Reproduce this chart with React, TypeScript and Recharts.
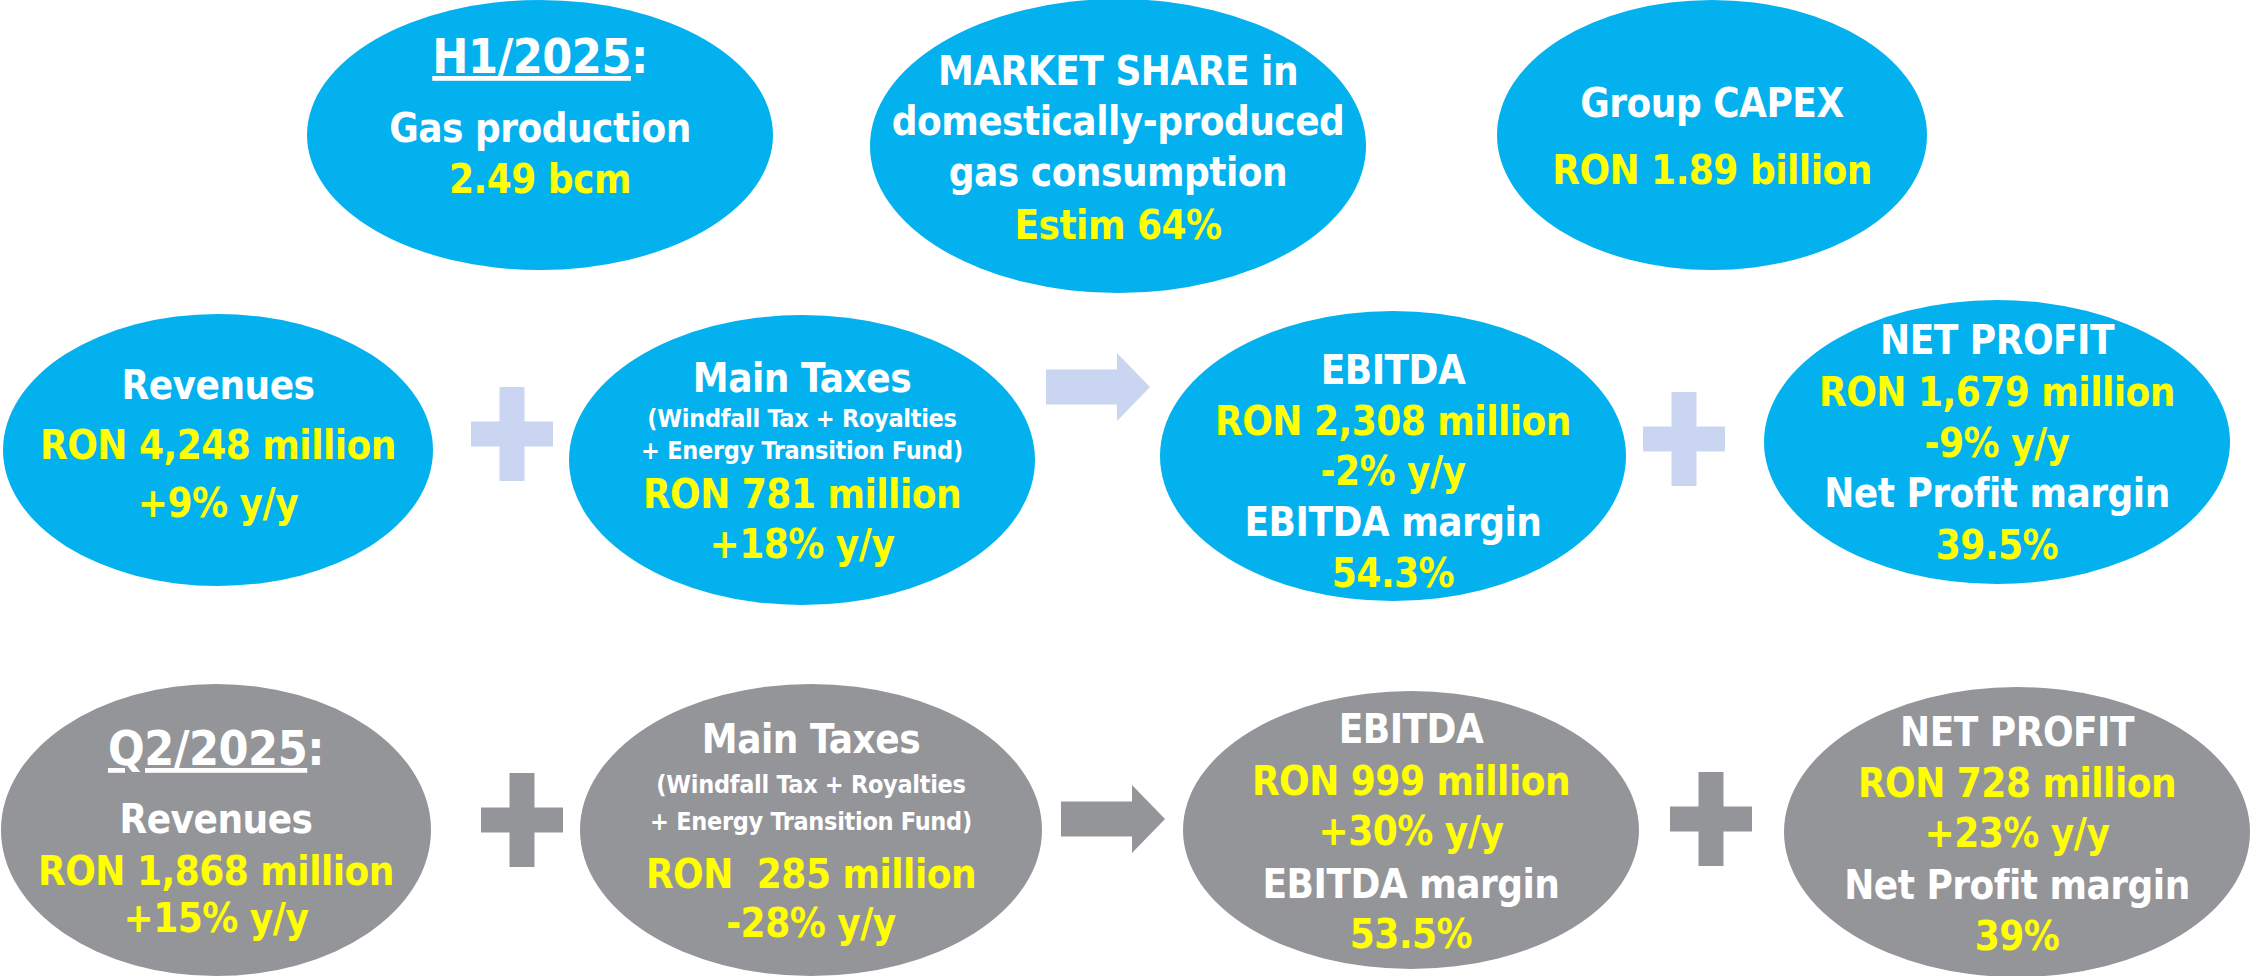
import { Scatter, ScatterChart, XAxis, YAxis } from "recharts";

const W = 2251;
const H = 976;

type Kind = "title" | "label" | "note" | "value";
type Line = [string, Kind];

// bubble texts
const h1Production: Line[] = [["H1/2025:", "title"], ["Gas production", "label"], ["2.49 bcm", "value"]];
const marketShare: Line[] = [
  ["MARKET SHARE in", "label"],
  ["domestically-produced", "label"],
  ["gas consumption", "label"],
  ["Estim 64%", "value"],
];
const groupCapex: Line[] = [["Group CAPEX", "label"], ["RON 1.89 billion", "value"]];
const h1Revenues: Line[] = [["Revenues", "label"], ["RON 4,248 million", "value"], ["+9% y/y", "value"]];
const h1Taxes: Line[] = [
  ["Main Taxes", "label"],
  ["(Windfall Tax + Royalties", "note"],
  ["+ Energy Transition Fund)", "note"],
  ["RON 781 million", "value"],
  ["+18% y/y", "value"],
];
const h1Ebitda: Line[] = [
  ["EBITDA", "label"],
  ["RON 2,308 million", "value"],
  ["-2% y/y", "value"],
  ["EBITDA margin", "label"],
  ["54.3%", "value"],
];
const h1NetProfit: Line[] = [
  ["NET PROFIT", "label"],
  ["RON 1,679 million", "value"],
  ["-9% y/y", "value"],
  ["Net Profit margin", "label"],
  ["39.5%", "value"],
];
const q2Revenues: Line[] = [
  ["Q2/2025:", "title"],
  ["Revenues", "label"],
  ["RON 1,868 million", "value"],
  ["+15% y/y", "value"],
];
const q2Taxes: Line[] = [
  ["Main Taxes", "label"],
  ["(Windfall Tax + Royalties", "note"],
  ["+ Energy Transition Fund)", "note"],
  ["RON  285 million", "value"],
  ["-28% y/y", "value"],
];
const q2Ebitda: Line[] = [
  ["EBITDA", "label"],
  ["RON 999 million", "value"],
  ["+30% y/y", "value"],
  ["EBITDA margin", "label"],
  ["53.5%", "value"],
];
const q2NetProfit: Line[] = [
  ["NET PROFIT", "label"],
  ["RON 728 million", "value"],
  ["+23% y/y", "value"],
  ["Net Profit margin", "label"],
  ["39%", "value"],
];

const BLUE = "#03b1ef";
const GREY = "#949599";
const PALE = "#c9d5f1";
const YELLOW = "#ffff00";
const FONT = "'DejaVu Sans Condensed', 'DejaVu Sans', sans-serif";
const SIZES: Record<Kind, number> = { title: 48, label: 40, note: 25, value: 40 };
const TRACKING: Record<Kind, number> = { title: -0.5, label: -0.5, note: -0.3, value: -0.5 };

// layout of the bubbles (centre, radii, baseline offsets of each line)
const bubbles = [
  { lines: h1Production, x: 540, y: 135, rx: 233, ry: 135, fill: BLUE, base: [-62, 7, 58] },
  { lines: marketShare, x: 1118, y: 146, rx: 248, ry: 147, fill: BLUE, base: [-61, -11, 40, 93] },
  { lines: groupCapex, x: 1712, y: 135, rx: 215, ry: 135, fill: BLUE, base: [-18, 49] },
  { lines: h1Revenues, x: 218, y: 450, rx: 215, ry: 136, fill: BLUE, base: [-51, 9, 67] },
  { lines: h1Taxes, x: 802, y: 460, rx: 233, ry: 145, fill: BLUE, base: [-68, -33, -1, 48, 98] },
  { lines: h1Ebitda, x: 1393, y: 456, rx: 233, ry: 145, fill: BLUE, base: [-72, -21, 29, 80, 131] },
  { lines: h1NetProfit, x: 1997, y: 442, rx: 233, ry: 142, fill: BLUE, base: [-88, -36, 15, 65, 117] },
  { lines: q2Revenues, x: 216, y: 830, rx: 215, ry: 146, fill: GREY, base: [-65, 3, 55, 102] },
  { lines: q2Taxes, x: 811, y: 830, rx: 231, ry: 146, fill: GREY, base: [-77, -37, 0, 58, 107] },
  { lines: q2Ebitda, x: 1411, y: 830, rx: 228, ry: 139, fill: GREY, base: [-87, -35, 15, 68, 118] },
  { lines: q2NetProfit, x: 2017, y: 832, rx: 233, ry: 145, fill: GREY, base: [-86, -35, 15, 67, 118] },
];

const plusSigns = [
  { x: 512, y: 434, fill: PALE },
  { x: 1684, y: 439, fill: PALE },
  { x: 522, y: 820, fill: GREY },
  { x: 1711, y: 819, fill: GREY },
];

const arrows = [
  { x: 1098, y: 387, fill: PALE },
  { x: 1113, y: 819, fill: GREY },
];

const renderBubble = (props: any) => {
  const { cx, cy, payload } = props;
  return (
    <g>
      <ellipse cx={cx} cy={cy} rx={payload.rx} ry={payload.ry} fill={payload.fill} />
      {payload.lines.map(([t, kind]: Line, i: number) => (
        <text
          key={i}
          x={cx}
          y={cy + payload.base[i]}
          textAnchor="middle"
          fontSize={SIZES[kind]}
          fontWeight="bold"
          fontFamily={FONT}
          letterSpacing={TRACKING[kind]}
          style={{ fontStretch: "condensed", whiteSpace: "pre" }}
          fill={kind === "value" ? YELLOW : "#ffffff"}
        >
          {kind === "title" ? (
            <>
              <tspan textDecoration="underline">{t.slice(0, -1)}</tspan>
              <tspan>:</tspan>
            </>
          ) : (
            t
          )}
        </text>
      ))}
    </g>
  );
};

const renderPlus = (props: any) => {
  const { cx, cy, payload } = props;
  const arm = 41;
  const half = 12.5;
  const up = 47;
  return (
    <g fill={payload.fill}>
      <rect x={cx - half} y={cy - up} width={half * 2} height={up * 2} />
      <rect x={cx - arm} y={cy - half} width={arm * 2} height={half * 2} />
    </g>
  );
};

const renderArrow = (props: any) => {
  const { cx, cy, payload } = props;
  const len = 52;
  const head = 33;
  const shaft = 17.5;
  const wing = 34;
  const d = `M${cx - len},${cy - shaft} L${cx + len - head},${cy - shaft} L${cx + len - head},${cy - wing} L${cx + len},${cy} L${cx + len - head},${cy + wing} L${cx + len - head},${cy + shaft} L${cx - len},${cy + shaft} Z`;
  return <path d={d} fill={payload.fill} />;
};

export default function App() {
  return (
    <div style={{ width: W, height: H, background: "#ffffff" }}>
      <style>{`body{margin:0;overflow:hidden}`}</style>
      <ScatterChart width={W} height={H} margin={{ top: 0, right: 0, bottom: 0, left: 0 }}>
        <XAxis type="number" dataKey="x" domain={[0, W]} hide />
        <YAxis type="number" dataKey="y" domain={[0, H]} reversed hide />
        <Scatter data={bubbles} shape={renderBubble} isAnimationActive={false} />
        <Scatter data={plusSigns} shape={renderPlus} isAnimationActive={false} />
        <Scatter data={arrows} shape={renderArrow} isAnimationActive={false} />
      </ScatterChart>
    </div>
  );
}
